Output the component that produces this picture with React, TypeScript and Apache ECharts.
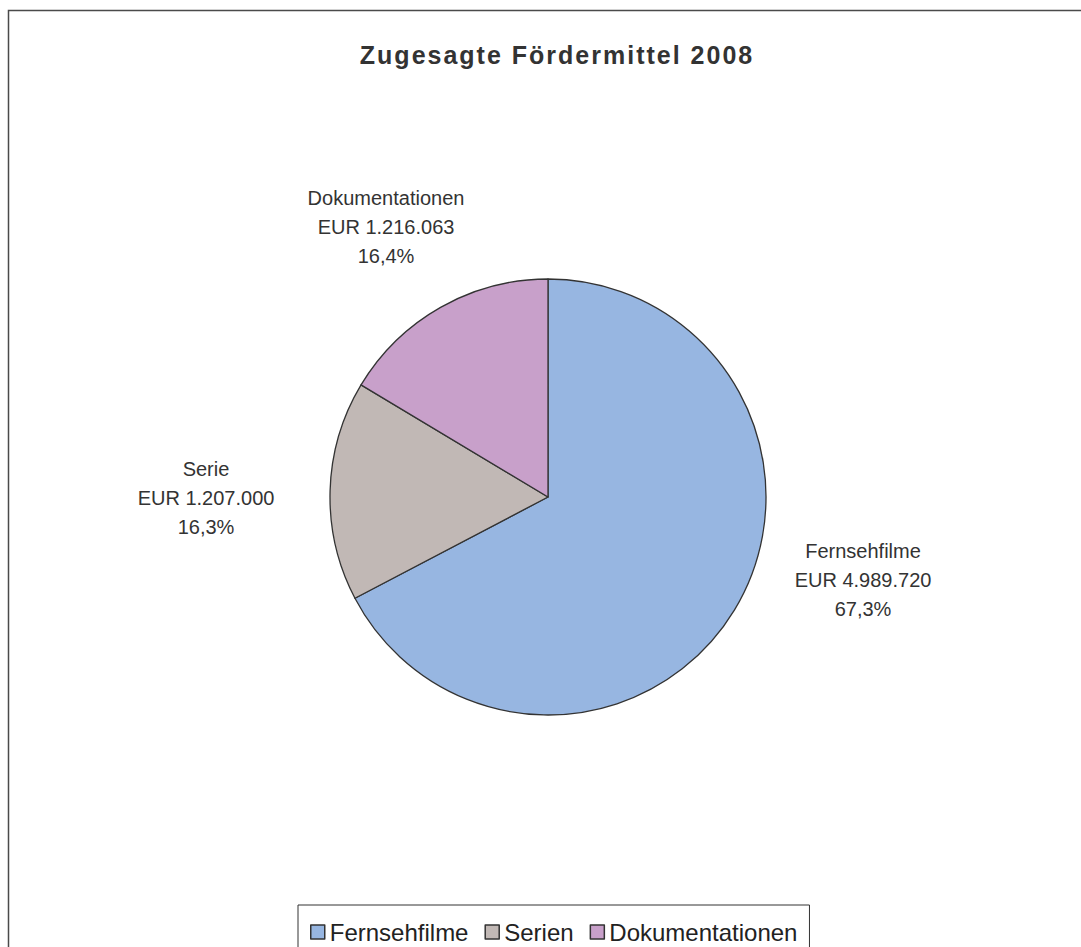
import React, { useEffect, useRef } from "react";
import * as echarts from "echarts";

const titleText = "Zugesagte Fördermittel 2008";
const categories = ["Fernsehfilme", "Serie", "Dokumentationen"];
const legendNames = ["Fernsehfilme", "Serien", "Dokumentationen"];
const values = [4989720, 1207000, 1216063];
const colors = ["#97B6E1", "#C1B8B5", "#C8A0CA"];

const CX = 548;
const CY = 497;
const labelOffsets = [
  [315, 83],
  [-342, 1],
  [-162, -270],
];

const fmtNum = (v: number) => String(v).replace(/\B(?=(\d{3})+(?!\d))/g, ".");
const total = values.reduce((a, b) => a + b, 0);

export default function App() {
  const ref = useRef<HTMLDivElement>(null);
  useEffect(() => {
    if (!ref.current) return;
    const chart = echarts.init(ref.current, null, { renderer: "svg" });
    const font = 'Arial, "Liberation Sans", sans-serif';
    chart.setOption({
      animation: false,
      backgroundColor: "#ffffff",
      graphic: [
        {
          type: "rect",
          shape: { x: 8.5, y: 10.5, width: 2000, height: 2000 },
          style: { fill: "none", stroke: "#4a4a4a", lineWidth: 1.5 },
          silent: true,
          z: -1,
        },
      ],
      title: {
        text: titleText,
        left: 552,
        top: 37,
        textAlign: "center",
        textStyle: {
          fontFamily: font,
          fontSize: 25,
          fontWeight: "bold",
          color: "#333333",
        },
      },
      legend: {
        left: 298,
        top: 905,
        orient: "horizontal",
        padding: [15, 12, 12, 12],
        borderColor: "#333333",
        borderWidth: 1,
        itemWidth: 14,
        itemHeight: 14,
        itemGap: 16,
        icon: "rect",
        itemStyle: { borderColor: "#333333", borderWidth: 1.5 },
        textStyle: { fontFamily: font, fontSize: 24, color: "#222222" },
        data: categories,
        formatter: (name: string) => legendNames[categories.indexOf(name)] ?? name,
      },
      series: [
        {
          type: "pie",
          center: [CX, CY],
          radius: 218,
          startAngle: 90,
          clockwise: true,
          data: categories.map((c, i) => ({
            name: c,
            value: values[i],
            itemStyle: { color: colors[i] },
          })),
          itemStyle: { borderColor: "#333333", borderWidth: 1.3 },
          label: {
            show: true,
            position: "outside",
            fontFamily: font,
            fontSize: 20,
            lineHeight: 29,
            color: "#333333",
            align: "center",
            formatter: (p: any) =>
              `${p.name}\nEUR ${fmtNum(p.value)}\n${((p.value / total) * 100)
                .toFixed(1)
                .replace(".", ",")}%`,
          },
          labelLine: { show: false },
          labelLayout: (p: any) => ({
            x: CX + labelOffsets[p.dataIndex][0],
            y: CY + labelOffsets[p.dataIndex][1],
            align: "center",
            verticalAlign: "middle",
          }),
          emphasis: { disabled: true },
        },
      ],
    });
    return () => chart.dispose();
  }, []);
  return (
    <>
      <style>{`text[style*="bold"], text[font-weight="bold"] { letter-spacing: 2px; }`}</style>
      <div
        ref={ref}
        style={{ position: "absolute", left: 0, top: 0, width: 1081, height: 947 }}
      />
    </>
  );
}
